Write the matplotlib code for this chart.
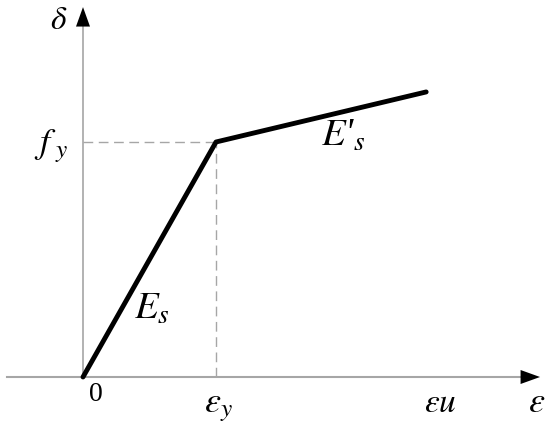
import matplotlib.pyplot as plt

plt.rcParams['mathtext.fontset'] = 'stix'
plt.rcParams['font.family'] = 'Liberation Serif'

# bilinear steel model, normalised to the yield point
strain = [0.0, 1.0, 2.58]
stress = [0.0, 1.0, 1.213]
eps_y, f_y = strain[1], stress[1]

fig = plt.figure(figsize=(5.5, 4.27), dpi=100)
ax = fig.add_axes([0, 0, 1, 1])
ax.set_xlim(-0.624, 3.511)
ax.set_ylim(-0.2085, 1.6085)
ax.axis('off')

gray = '#a6a6a6'
head = dict(arrowstyle='-|>,head_length=0.5,head_width=0.18', mutation_scale=28,
            color='black', lw=0, shrinkA=0, shrinkB=0)

# axes with arrow heads
ax.plot([-0.57, 3.34], [0, 0], color=gray, lw=1.5, zorder=1)
ax.plot([0, 0], [0, 1.52], color=gray, lw=1.2, zorder=1)
ax.annotate('', xy=(3.436, 0), xytext=(3.30, 0), arrowprops=head)
ax.annotate('', xy=(0, 1.574), xytext=(0, 1.49), arrowprops=head)

# guide lines to the yield point
ax.plot([0, eps_y], [f_y, f_y], color=gray, lw=1, ls=(0, (7, 4)), zorder=1)
ax.plot([eps_y, eps_y], [0, f_y], color=gray, lw=1, ls=(0, (7, 4)), zorder=1)

ax.plot(strain, stress, color='black', lw=3.5, solid_capstyle='round',
        solid_joinstyle='round', zorder=3)

ax.text(-0.18, 1.519, r'$\delta$', fontsize=24, ha='center', va='center')
ax.text(-0.24, 0.985, r'$f_{\ y}$', fontsize=26, ha='center', va='center')
ax.text(0.098, -0.072, '0', fontsize=20, ha='center', va='center')
ax.text(1.02, -0.125, r'$\varepsilon_y$', fontsize=26, ha='center', va='center')
ax.text(2.69, -0.11, r'$\varepsilon u$', fontsize=24, ha='center', va='center')
ax.text(3.41, -0.11, r'$\varepsilon$', fontsize=26, ha='center', va='center')
ax.text(0.52, 0.294, r'$E_s$', fontsize=28, ha='center', va='center')
ax.text(1.96, 1.026, r"$E$'$_s$", fontsize=28, ha='center', va='center',
        fontstyle='italic')

fig.savefig('out.png', dpi=100)
